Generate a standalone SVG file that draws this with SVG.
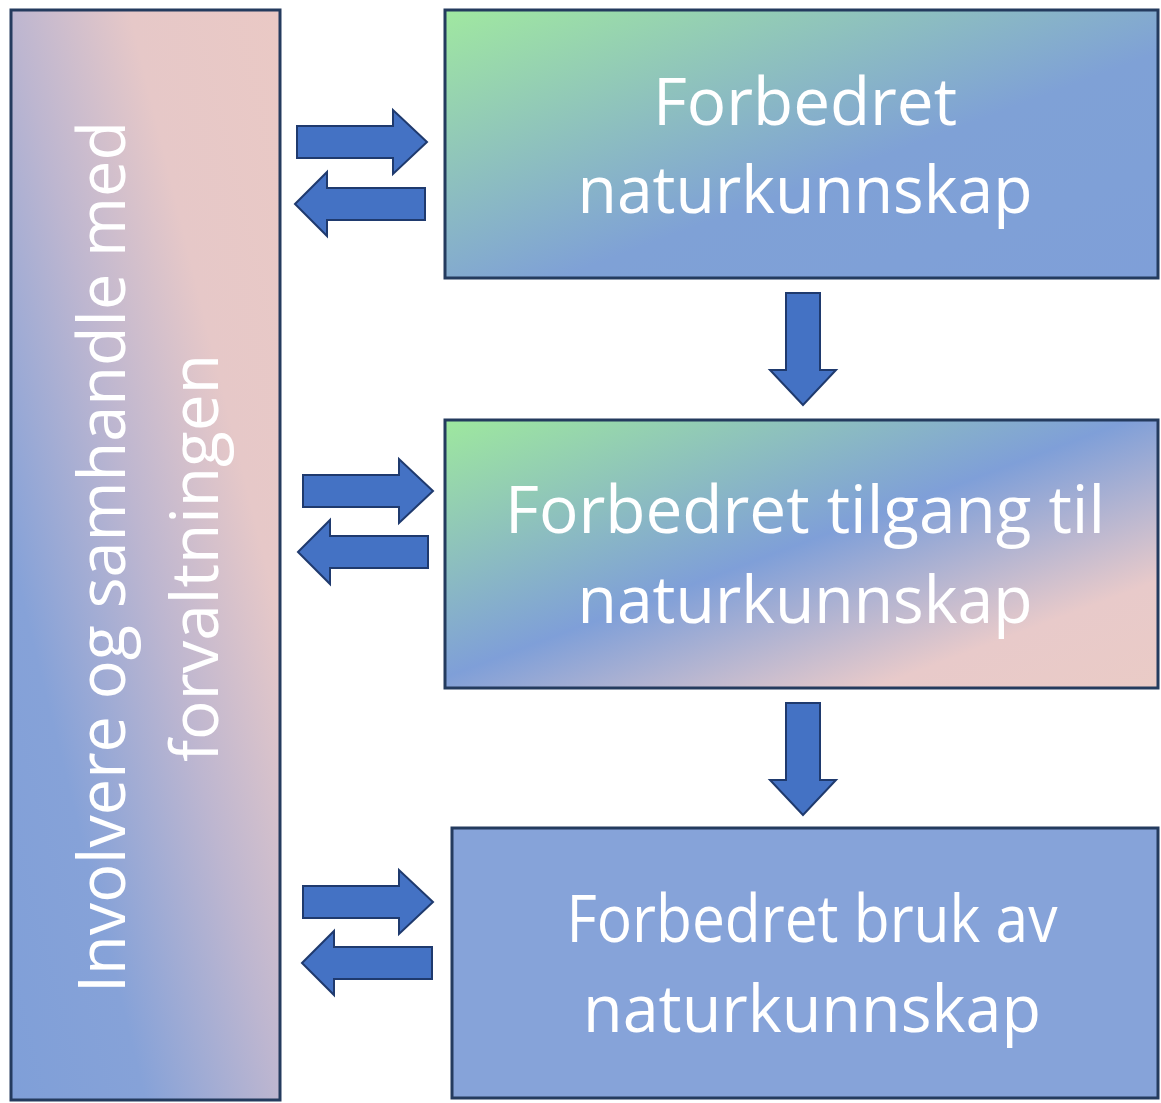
<svg xmlns="http://www.w3.org/2000/svg" width="1161" height="1103" viewBox="0 0 1161 1103">
<style>
.box{stroke:#243B5E;stroke-width:3}
.lbl{font-family:"Open Sans","Noto Sans","Liberation Sans",sans-serif;font-size:65px;fill:#FFFFFF;text-anchor:middle}
.arr{fill:#4472C4;stroke:#1F3A6E;stroke-width:2;stroke-linejoin:miter}
</style>
<defs>
<linearGradient id="gLeft" x1="0" y1="1" x2="1" y2="0">
<stop offset="0" stop-color="#7F9FD8"/>
<stop offset="0.25" stop-color="#86A2D8"/>
<stop offset="0.5" stop-color="#BDB6D0"/>
<stop offset="0.72" stop-color="#E6C8C8"/>
<stop offset="1" stop-color="#EAC9C5"/>
</linearGradient>
<linearGradient id="g1" x1="0" y1="0" x2="1" y2="1">
<stop offset="0" stop-color="#A0E8A0"/>
<stop offset="0.58" stop-color="#7FA1D6"/>
<stop offset="1" stop-color="#7F9FD8"/>
</linearGradient>
<linearGradient id="g2" x1="0" y1="0" x2="1" y2="1">
<stop offset="0" stop-color="#9EE89E"/>
<stop offset="0.48" stop-color="#7F9FD8"/>
<stop offset="0.8" stop-color="#E8CACA"/>
<stop offset="1" stop-color="#EACBC6"/>
</linearGradient>
<path id="arR" d="M0,-16 H96 V-32 L130,0 L96,32 V16 H0 Z"/>
<path id="arL" d="M0,0 L32,-32 V-16 H130 V16 H32 V32 Z"/>
<path id="arD" d="M-17,0 H17 V77 H33 L0,112 L-33,77 H-17 Z"/>
</defs>
<rect width="1161" height="1103" fill="#FFFFFF"/>
<g id="node-left">
<rect class="box" x="11" y="10" width="269" height="1090" fill="url(#gLeft)"/>
<text class="lbl" transform="translate(125,557) rotate(-90)" textLength="872" lengthAdjust="spacingAndGlyphs">Involvere og samhandle med</text>
<text class="lbl" transform="translate(218,558) rotate(-90)" textLength="408" lengthAdjust="spacingAndGlyphs">forvaltningen</text>
</g>
<g id="node-1">
<rect class="box" x="445" y="10" width="713" height="268" fill="url(#g1)"/>
<text class="lbl" x="805" y="125" textLength="304" lengthAdjust="spacingAndGlyphs">Forbedret</text>
<text class="lbl" x="805" y="213" textLength="455" lengthAdjust="spacingAndGlyphs">naturkunnskap</text>
</g>
<g id="node-2">
<rect class="box" x="445" y="420" width="713" height="268" fill="url(#g2)"/>
<text class="lbl" x="805" y="533" textLength="600" lengthAdjust="spacingAndGlyphs">Forbedret tilgang til</text>
<text class="lbl" x="805" y="623" textLength="455" lengthAdjust="spacingAndGlyphs">naturkunnskap</text>
</g>
<g id="node-3">
<rect class="box" x="452" y="828" width="706" height="270" fill="#86A3D9"/>
<text class="lbl" x="812" y="942" textLength="491" lengthAdjust="spacingAndGlyphs">Forbedret bruk av</text>
<text class="lbl" x="812" y="1032" textLength="458" lengthAdjust="spacingAndGlyphs">naturkunnskap</text>
</g>
<g id="connectors">
<use href="#arR" class="arr" transform="translate(297,142)"/>
<use href="#arL" class="arr" transform="translate(295,204)"/>
<use href="#arR" class="arr" transform="translate(303,491)"/>
<use href="#arL" class="arr" transform="translate(298,552)"/>
<use href="#arR" class="arr" transform="translate(303,902)"/>
<use href="#arL" class="arr" transform="translate(302,963)"/>
<use href="#arD" class="arr" transform="translate(803,293)"/>
<use href="#arD" class="arr" transform="translate(803,703)"/>
</g>
</svg>
